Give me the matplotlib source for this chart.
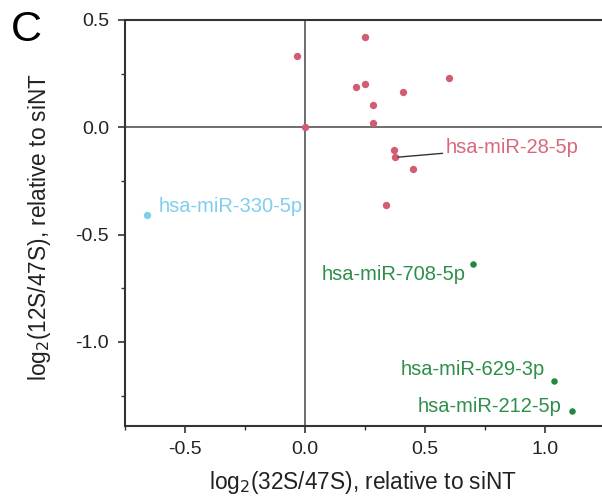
import matplotlib.pyplot as plt
from matplotlib.ticker import MultipleLocator

plt.rcParams['font.family'] = ['Liberation Sans', 'DejaVu Sans']

# log2 ratios relative to siNT
pink_x = [-0.031, 0.249, 0.214, 0.250, 0.406, 0.600, 0.285, 0.285, 0.0, 0.372, 0.376, 0.448, 0.336]
pink_y = [0.330, 0.420, 0.187, 0.204, 0.165, 0.232, 0.106, 0.019, 0.0, -0.107, -0.140, -0.196, -0.364]

blue_x = [-0.655]
blue_y = [-0.410]

green_x = [0.697, 1.037, 1.112]
green_y = [-0.638, -1.180, -1.320]

pink_c = '#d25c72'
blue_c = '#80cdee'
green_c = '#1f8a3e'

fig = plt.figure(figsize=(6.02, 5.00), dpi=100)
ax = fig.add_axes([124.5 / 602, 1 - 425.7 / 500, 1 - 124.5 / 602, (425.7 - 20) / 500])

ax.axhline(0, color='#555555', lw=1.2, zorder=1)
ax.axvline(0, color='#555555', lw=1.2, zorder=1)

ax.scatter(pink_x, pink_y, s=28, color=pink_c, linewidths=0, zorder=3)
ax.scatter(blue_x, blue_y, s=28, color=blue_c, linewidths=0, zorder=3)
ax.scatter(green_x, green_y, s=22, color=green_c, linewidths=0, zorder=3)

fs = 14.5
ax.annotate('hsa-miR-28-5p', (pink_x[10], pink_y[10]), xytext=(50, 10),
            textcoords='offset pixels', ha='left', va='center', fontsize=fs,
            color='#d9687c',
            arrowprops=dict(arrowstyle='-', color='#333333', lw=1, shrinkA=0, shrinkB=2))
ax.annotate('hsa-miR-330-5p', (blue_x[0], blue_y[0]), xytext=(11, 9),
            textcoords='offset pixels', ha='left', va='center', fontsize=fs,
            color=blue_c)
ax.annotate('hsa-miR-708-5p', (green_x[0], green_y[0]), xytext=(-7, -10),
            textcoords='offset pixels', ha='right', va='center', fontsize=fs,
            color='#2e8f4a')
ax.annotate('hsa-miR-629-3p', (green_x[1], green_y[1]), xytext=(-9, 11),
            textcoords='offset pixels', ha='right', va='center', fontsize=fs,
            color='#2e8f4a')
ax.annotate('hsa-miR-212-5p', (green_x[2], green_y[2]), xytext=(-11, 4),
            textcoords='offset pixels', ha='right', va='center', fontsize=fs,
            color='#2e8f4a')

ax.set_xlim(-0.75, 1.235)
ax.set_ylim(-1.39, 0.5)
ax.xaxis.set_major_locator(MultipleLocator(0.5))
ax.xaxis.set_minor_locator(MultipleLocator(0.25))
ax.yaxis.set_major_locator(MultipleLocator(0.5))
ax.yaxis.set_minor_locator(MultipleLocator(0.25))
ax.xaxis.set_major_formatter(lambda v, p: f'{v:.1f}'.replace('-0.0', '0.0'))
ax.yaxis.set_major_formatter(lambda v, p: f'{v:.1f}'.replace('-0.0', '0.0'))

for side in ['left', 'bottom', 'top']:
    ax.spines[side].set_linewidth(1.5)
    ax.spines[side].set_color('#333333')
ax.spines['right'].set_visible(False)

ax.tick_params(which='major', direction='out', length=5, width=1.2, color='#333333',
               labelsize=14, labelcolor='#222222', pad=6)
ax.tick_params(which='minor', direction='out', length=3, width=1.0, color='#333333')
ax.tick_params(top=False, right=False)

ax.set_xlabel('log$_2$(32S/47S), relative to siNT', fontsize=16.3, color='#222222', labelpad=8)
ax.set_ylabel('log$_2$(12S/47S), relative to siNT', fontsize=16.3, color='#222222')
ax.yaxis.set_label_coords(-0.15, 0.49)

fig.text(0.018, 0.94, 'C', fontsize=31, va='center', ha='left')

fig.savefig('out.png', dpi=100)
